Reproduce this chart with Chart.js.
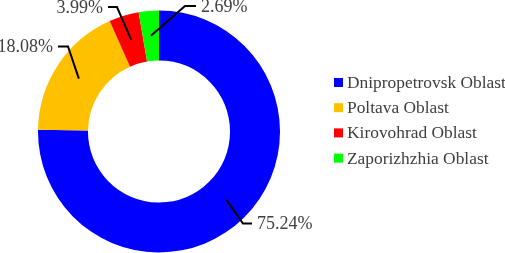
<!DOCTYPE html>
<html>
<head>
<meta charset="utf-8">
<script src="https://cdn.jsdelivr.net/npm/chart.js@4/dist/chart.umd.min.js"></script>
<style>
html,body{margin:0;padding:0;background:#fff;}
canvas{display:block;}
</style>
</head>
<body>
<canvas id="c" width="505" height="253"></canvas>
<script>
const categories = ["Dnipropetrovsk Oblast", "Poltava Oblast", "Kirovohrad Oblast", "Zaporizhzhia Oblast"];
const shares = [75.24, 18.08, 3.99, 2.69];
const percentLabels = ["75.24%", "18.08%", "3.99%", "2.69%"];
const colors = ["#0000FF", "#FFC000", "#FF0000", "#00FF00"];

const FONT = "'Liberation Serif', 'Times New Roman', serif";
const TEXT = "#404040";

// leader-line layout: elbow offset from centre (px), horizontal run direction/length
const leaderLayout = [
  {dx: 84, dy: 92, run: 9},
  {dx: -91, dy: -85, run: -10},
  {dx: -42, dy: -124.5, run: -9},
  {dx: 26, dy: -125.5, run: 11}
];

const labelPlugin = {
  id: 'leaderLabels',
  afterDraw(chart) {
    const ctx = chart.ctx;
    const meta = chart.getDatasetMeta(0);
    ctx.save();
    meta.data.forEach((arc, i) => {
      const p = arc.getCenterPoint();
      const L = leaderLayout[i];
      const ex = arc.x + L.dx, ey = arc.y + L.dy;
      const hx = ex + L.run;
      ctx.strokeStyle = '#000';
      ctx.lineWidth = 2;
      ctx.beginPath();
      ctx.moveTo(p.x, p.y);
      ctx.lineTo(ex, ey);
      ctx.lineTo(hx, ey);
      ctx.stroke();
      ctx.fillStyle = TEXT;
      ctx.font = "18px " + FONT;
      ctx.textBaseline = 'middle';
      if (L.run > 0) {
        ctx.textAlign = 'left';
        ctx.fillText(percentLabels[i], hx + 5, ey + 1);
      } else {
        ctx.textAlign = 'right';
        ctx.fillText(percentLabels[i], hx - 5, ey + 1);
      }
    });
    // legend
    const lx = 334, ly0 = 82.5, step = 25.2;
    ctx.font = "17.4px " + FONT;
    ctx.textAlign = 'left';
    ctx.textBaseline = 'middle';
    categories.forEach((name, i) => {
      const y = ly0 + i * step;
      ctx.fillStyle = colors[i];
      ctx.fillRect(lx, y - 4.5, 9, 9);
      ctx.fillStyle = TEXT;
      ctx.fillText(name, lx + 13, y + 1);
    });
    ctx.restore();
  }
};

new Chart(document.getElementById('c'), {
  type: 'doughnut',
  data: {
    labels: categories,
    datasets: [{
      data: shares,
      backgroundColor: colors,
      borderWidth: 0
    }]
  },
  options: {
    responsive: false,
    animation: false,
    cutout: '58.7%',
    layout: {padding: {left: 38, right: 225, top: 10, bottom: 0}},
    plugins: {
      legend: {display: false},
      tooltip: {enabled: false}
    }
  },
  plugins: [labelPlugin]
});
</script>
</body>
</html>
